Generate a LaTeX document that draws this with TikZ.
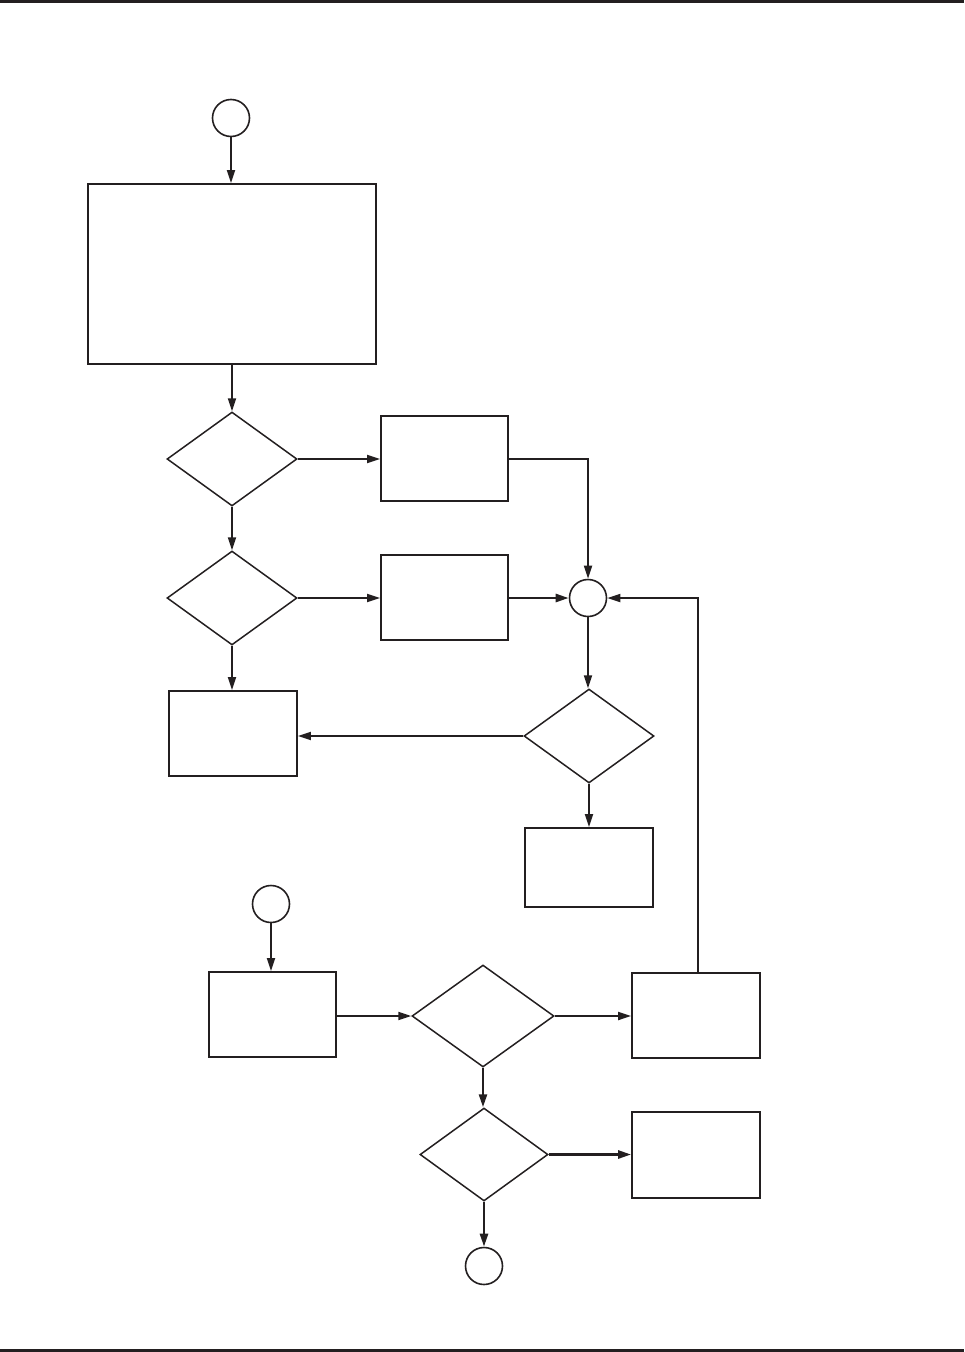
\documentclass[tikz,border=0pt]{standalone}
\usetikzlibrary{shapes.geometric,arrows.meta}
\definecolor{ink}{HTML}{231F20}
\tikzset{
  boxnode/.style={draw=ink,line width=1.7pt,rectangle,inner sep=0pt,fill=white},
  decnode/.style={draw=ink,line width=1.5pt,diamond,inner sep=0pt,minimum width=130pt,minimum height=94pt},
  connnode/.style={draw=ink,line width=1.6pt,circle,inner sep=0pt,minimum size=37pt},
  flow/.style={draw=ink,line width=1.8pt,-{Triangle[length=13pt,width=8pt]}},
  flowthick/.style={draw=ink,line width=2.5pt,-{Triangle[length=13pt,width=8pt]}},
}
\begin{document}
\begin{tikzpicture}[x=1pt,y=-1pt]
\useasboundingbox (0,0) rectangle (964,1352);
\fill[ink] (0,0) rectangle (964,3);
\fill[ink] (0,1349) rectangle (964,1352);

% nodes
\node[connnode] (c1) at (231,118) {};
\node[boxnode,minimum width=288pt,minimum height=180pt] (big) at (232,274) {};
\node[decnode] (d1) at (232,459) {};
\node[boxnode,minimum width=127pt,minimum height=85pt] (b2) at (444.5,458.5) {};
\node[decnode] (d2) at (232,598) {};
\node[boxnode,minimum width=127pt,minimum height=85pt] (b3) at (444.5,597.5) {};
\node[connnode] (c2) at (588,598) {};
\node[decnode] (d3) at (589,736) {};
\node[boxnode,minimum width=128pt,minimum height=85pt] (b4) at (233,733.5) {};
\node[boxnode,minimum width=128pt,minimum height=79pt] (b5) at (589,867.5) {};
\node[connnode] (c3) at (271,904) {};
\node[boxnode,minimum width=127pt,minimum height=85pt] (b6) at (272.5,1014.5) {};
\node[decnode,minimum width=142pt,minimum height=102pt] (d4) at (483,1016) {};
\node[boxnode,minimum width=128pt,minimum height=85pt] (b7) at (696,1015.5) {};
\node[decnode,minimum width=128pt,minimum height=93pt] (d5) at (484,1154.5) {};
\node[boxnode,minimum width=128pt,minimum height=86pt] (b8) at (696,1155) {};
\node[connnode] (c4) at (484,1266) {};
\coordinate (b2out) at (508,459);
\coordinate (turn) at (698,598);

% connectors
\draw[flow] (c1.south) -- (c1.south |- big.north);
\draw[flow] (big.south -| d1.north) -- (d1.north);
\draw[flow] (d1.east) -- (b2.west |- d1.east);
\draw[flow] (b2out) -| (c2.north);
\draw[flow] (d1.south) -- (d2.north);
\draw[flow] (d2.east) -- (b3.west |- d2.east);
\draw[flowthick] (b3.east |- c2.west) -- (c2.west);
\draw[flow] (b7.north -| turn) -- (turn) -- (c2.east);
\draw[flow] (c2.south) -- (c2.south |- d3.north);
\draw[flow] (d3.west) -- (b4.east |- d3.west);
\draw[flow] (d2.south) -- (d2.south |- b4.north);
\draw[flow] (d3.south) -- (d3.south |- b5.north);
\draw[flow] (c3.south) -- (c3.south |- b6.north);
\draw[flow] (b6.east |- d4.west) -- (d4.west);
\draw[flow] (d4.east) -- (b7.west |- d4.east);
\draw[flowthick] (d4.south) -- (d4.south |- d5.north);
\draw[flowthick] (d5.east) -- (b8.west |- d5.east);
\draw[flowthick] (d5.south) -- (d5.south |- c4.north);
\end{tikzpicture}
\end{document}
